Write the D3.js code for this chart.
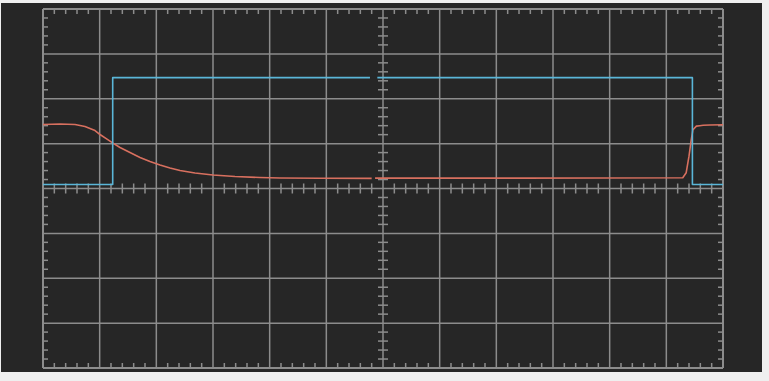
<!DOCTYPE html>
<html><head><meta charset="utf-8">
<script src="https://cdn.jsdelivr.net/npm/d3@7"></script>
<style>html,body{margin:0;padding:0;background:#efefef;}svg{display:block;}</style>
</head><body>
<script>
// Time in divisions (0..12), voltage in divisions (-4..4)
const xTicks = [0,1,2,3,4,5,6,7,8,9,10,11,12];
const yTicks = [-4,-3,-2,-1,0,1,2,3,4];
// Channel 1 (blue): square pulse
const blueT = [0, 1.23, 1.23, 5.77, null, 5.9, 11.46, 11.46, 12];
const blueV = [0.09, 0.09, 2.47, 2.47, null, 2.47, 2.47, 0.09, 0.09];
// Channel 2 (red): slow decay then fast recovery
const redT = [0, 0.30, 0.565, 0.741, 0.918, 1.006, 1.129, 1.235, 1.359, 1.535, 1.712, 1.888, 2.065, 2.241, 2.418, 2.682, 3.0, 3.388, 3.829, 4.182, 4.888, 5.80, null, 5.86, 8.5, 11.29, 11.35, 11.40, 11.44, 11.47, 11.53, 11.59, 11.65, 11.77, 12];
const redV = [1.425, 1.437, 1.425, 1.381, 1.292, 1.203, 1.102, 1.013, 0.913, 0.802, 0.690, 0.601, 0.523, 0.457, 0.401, 0.345, 0.301, 0.267, 0.245, 0.234, 0.230, 0.226, null, 0.232, 0.232, 0.24, 0.35, 0.72, 1.09, 1.31, 1.39, 1.40, 1.41, 1.414, 1.42];

const W = 769, H = 381;
const svg = d3.select("body").append("svg").attr("width", W).attr("height", H);
svg.append("rect").attr("x", 1).attr("y", 3).attr("width", 761).attr("height", 369).attr("fill", "#262626");

const L = 43, R = 723, T = 9, B = 368;
const x = d3.scaleLinear().domain([0, 12]).range([L, R]);
const y = d3.scaleLinear().domain([-4, 4]).range([B, T]);
const grid = "#8c8c8c";

const g = svg.append("g");
// grid lines
g.selectAll(".vx").data(xTicks).join("line")
  .attr("x1", d => x(d)).attr("x2", d => x(d)).attr("y1", T).attr("y2", B)
  .attr("stroke", grid).attr("stroke-width", d => (d === 0 || d === 12) ? 2 : 1.5);
g.selectAll(".hy").data(yTicks).join("line")
  .attr("y1", d => y(d)).attr("y2", d => y(d)).attr("x1", L).attr("x2", R)
  .attr("stroke", grid).attr("stroke-width", d => (d === -4 || d === 4) ? 2 : 1.5);

// minor ticks (5 per division)
const minorX = d3.range(0, 12 * 5 + 1).map(i => i / 5).filter(v => Math.abs(v - Math.round(v)) > 1e-6);
const minorY = d3.range(0, 8 * 5 + 1).map(i => -4 + i / 5).filter(v => Math.abs(v - Math.round(v)) > 1e-6);
const tk = [];
minorX.forEach(v => {
  tk.push([x(v), T, x(v), T + 5]);
  tk.push([x(v), B, x(v), B - 5]);
  tk.push([x(v), y(0) - 5, x(v), y(0) + 5]);
});
minorY.forEach(v => {
  tk.push([L, y(v), L + 5, y(v)]);
  tk.push([R, y(v), R - 5, y(v)]);
  tk.push([x(6) - 5, y(v), x(6) + 5, y(v)]);
});
g.selectAll(".tk").data(tk).join("line")
  .attr("x1", d => d[0]).attr("y1", d => d[1]).attr("x2", d => d[2]).attr("y2", d => d[3])
  .attr("stroke", grid).attr("stroke-width", 1.5);

function trace(ts, vs, color) {
  const pts = ts.map((t, i) => [t, vs[i]]);
  const line = d3.line().defined(d => d[0] !== null && d[1] !== null)
    .x(d => x(d[0])).y(d => y(d[1]));
  svg.append("path").attr("d", line(pts)).attr("fill", "none")
    .attr("stroke", color).attr("stroke-width", 1.6).attr("stroke-linejoin", "round");
}
trace(redT, redV, "#d8705f");
trace(blueT, blueV, "#5ab6d8");
</script>
</body></html>
